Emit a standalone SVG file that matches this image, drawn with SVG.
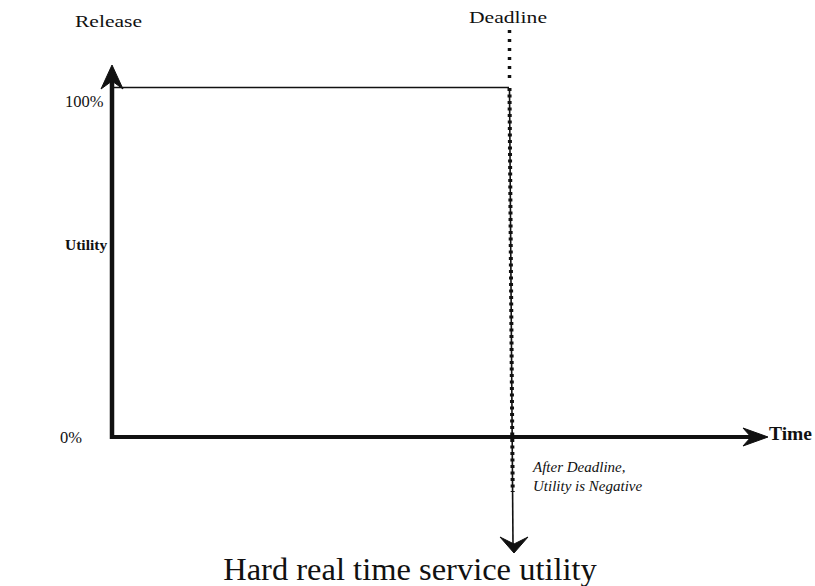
<svg xmlns="http://www.w3.org/2000/svg" width="815" height="586" viewBox="0 0 815 586">
  <style>
    .lbl { font-family: "Liberation Serif", "Times New Roman", serif; fill: #111; }
    .axis { stroke: #111; fill: none; }
    .head { fill: #111; stroke: #111; stroke-width: 1; stroke-linejoin: miter; }
  </style>
  <rect width="815" height="586" fill="#fff"/>

  <!-- connectors: axes, utility level, deadline -->
  <g id="connectors">
    <!-- utility axis (vertical) -->
    <line class="axis" x1="112" y1="439" x2="112" y2="78" stroke-width="4.5"/>
    <polygon class="head" points="112,65 123,89 112,81 101,89"/>
    <!-- time axis (horizontal) -->
    <line class="axis" x1="110" y1="437" x2="752" y2="437" stroke-width="4"/>
    <polygon class="head" points="768,437 743,428 751,437 743,446"/>
    <!-- 100% utility level -->
    <line class="axis" x1="114" y1="87.5" x2="509" y2="87.5" stroke-width="1.6"/>
    <!-- deadline marker: sparse dots above the level, beaded line below -->
    <line class="axis" x1="509.5" y1="30" x2="509.5" y2="84" stroke-width="3.5" stroke-dasharray="3 6"/>
    <line class="axis" x1="509.5" y1="88" x2="513" y2="545" stroke-width="1.6"/>
    <line class="axis" x1="509.5" y1="88" x2="512.7" y2="492" stroke-width="4" stroke-dasharray="3 3.5"/>
    <polygon class="head" points="514,553 500,537 514,544 528,537"/>
  </g>

  <g id="release">
    <text class="lbl" x="75" y="27" font-size="17" textLength="67" lengthAdjust="spacingAndGlyphs">Release</text>
  </g>
  <g id="deadline">
    <text class="lbl" x="469" y="23" font-size="17" textLength="78" lengthAdjust="spacingAndGlyphs">Deadline</text>
  </g>
  <g id="label-100">
    <text class="lbl" x="65" y="107" font-size="16.5">100%</text>
  </g>
  <g id="label-utility">
    <text class="lbl" x="65" y="250" font-size="15.5" font-weight="bold">Utility</text>
  </g>
  <g id="label-0">
    <text class="lbl" x="60" y="443" font-size="16.5">0%</text>
  </g>
  <g id="label-time">
    <text class="lbl" x="769" y="440" font-size="18" font-weight="bold" textLength="43" lengthAdjust="spacingAndGlyphs">Time</text>
  </g>
  <g id="note">
    <text class="lbl" x="533" y="472" font-size="15" font-style="italic">After Deadline,</text>
    <text class="lbl" x="533" y="491" font-size="15" font-style="italic">Utility is Negative</text>
  </g>
  <g id="caption">
    <text class="lbl" x="410" y="580" font-size="32.5" text-anchor="middle">Hard real time service utility</text>
  </g>
</svg>
